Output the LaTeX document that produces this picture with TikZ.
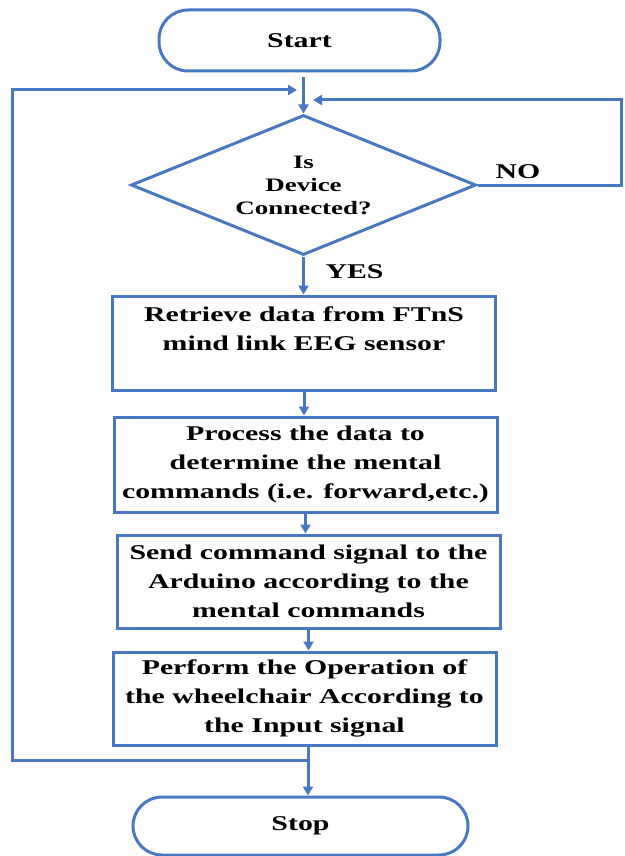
\documentclass[tikz,border=0pt]{standalone}
\usepackage{fontspec}
\setmainfont{Liberation Serif}[FakeStretch=1.42]
\usetikzlibrary{shapes.geometric,arrows.meta}
\definecolor{fb}{RGB}{72,120,194}
\begin{document}
\begin{tikzpicture}[x=1pt,y=-1pt,
  every node/.style={inner sep=0pt},
  fl/.style={draw=fb,line width=3pt},
  arr/.style={fl,-{Triangle[length=9pt,width=10pt]}},
  term/.style={fl,rectangle,rounded corners=29pt,font=\fontsize{21}{29}\selectfont\bfseries},
  dec/.style={fl,diamond,aspect=2.46,minimum width=345pt,minimum height=140pt,align=center,font=\fontsize{19}{23}\selectfont\bfseries},
  stepbox/.style={fl,rectangle,minimum width=383pt,align=center,font=\fontsize{21}{29}\selectfont\bfseries},
  lab/.style={font=\fontsize{21}{25}\selectfont\bfseries}]
\useasboundingbox (0,0) rectangle (624,856);
\node[term,minimum width=281pt,minimum height=61pt] (start) at (299.5,40.5) {Start};
\node[dec] (dec) at (303.5,185) {Is\\Device\\Connected?};
\node[stepbox,minimum height=94pt] (b1) at (304,343) {Retrieve data from FTnS\\mind link EEG sensor\\~};
\node[stepbox,minimum height=95pt] (b2) at (305.5,464.5) {Process the data to\\determine the mental\\commands (i.e. forward,etc.)};
\node[stepbox,minimum height=93pt] (b3) at (308.5,581.5) {Send command signal to the\\Arduino according to the\\mental commands};
\node[stepbox,minimum height=93pt] (b4) at (304.5,698.5) {Perform the Operation of\\the wheelchair According to\\the Input signal};
\node[term,minimum width=335pt,minimum height=58pt] (stop) at (300.5,826) {Stop};
\node[lab] (yes) at (354.5,272) {YES};
\node[lab] (no) at (518,172) {NO};
\coordinate (j) at (308,760);
\coordinate (ll) at (12,760);
\coordinate (lt) at (12,90);
\coordinate (lte) at (297,90);
\coordinate (nr) at (621,100);
\coordinate (nt) at (313,100);
\draw[arr,shorten <=5pt] (dec.north |- start.south) -- (dec.north);
\draw[arr] (dec.south) -- (dec.south |- b1.north);
\draw[arr] (b1.south) -- (b1.south |- b2.north);
\draw[arr] (b2.south) -- (b2.south |- b3.north);
\draw[arr] (b3.south) -- (b3.south |- b4.north);
\draw[arr] (b4.south -| j) -- (stop.north -| j);
\draw[arr] (j) -- (ll) -- (lt) -- (lte);
\draw[arr] (dec.east) -- (dec.east -| nr) -- (nr) -- (nt);
\end{tikzpicture}
\end{document}
